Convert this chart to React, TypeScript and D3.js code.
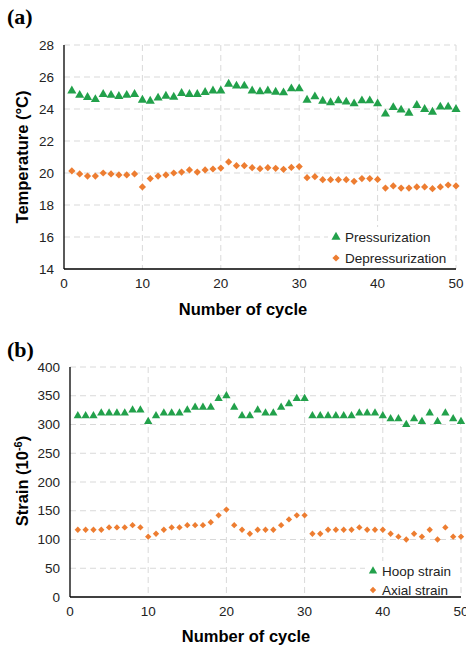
import React from 'react';
import * as d3 from 'd3';

const cycles = d3.range(1, 51);

const pressurization = [
  25.14, 24.86, 24.73, 24.6, 24.92, 24.86, 24.79, 24.86, 24.92, 24.56,
  24.5, 24.69, 24.81, 24.75, 24.98, 24.92, 24.92, 25.04, 25.14, 25.14,
  25.56, 25.44, 25.44, 25.14, 25.08, 25.14, 25.06, 25.02, 25.27, 25.27,
  24.56, 24.77, 24.5, 24.4, 24.52, 24.44, 24.33, 24.52, 24.52, 24.33,
  23.69, 24.1, 23.94, 23.75, 24.23, 23.98, 23.81, 24.13, 24.13, 23.98,
];
const depressurization = [
  20.13, 19.94, 19.81, 19.81, 20.0, 19.94, 19.88, 19.88, 19.94, 19.13,
  19.65, 19.81, 19.88, 20.0, 20.06, 20.19, 20.06, 20.19, 20.25, 20.31,
  20.69, 20.46, 20.46, 20.33, 20.27, 20.33, 20.29, 20.23, 20.35, 20.4,
  19.71, 19.77, 19.58, 19.58, 19.58, 19.58, 19.48, 19.65, 19.65, 19.6,
  19.06, 19.19, 19.06, 19.06, 19.13, 19.13, 19.02, 19.13, 19.25, 19.19,
];
const hoopStrain = [
  315, 315, 315, 320, 320, 320, 320, 325, 325, 305,
  315, 320, 320, 320, 325, 330, 330, 330, 345, 350,
  330, 315, 315, 325, 320, 320, 330, 336, 345, 345,
  315, 315, 315, 315, 315, 315, 320, 320, 320, 315,
  310, 310, 300, 310, 305, 320, 305, 320, 310, 305,
];
const axialStrain = [
  117, 117, 117, 117, 121, 121, 121, 125, 121, 105,
  110, 117, 121, 121, 125, 125, 125, 130, 142, 152,
  125, 117, 110, 117, 117, 117, 125, 135, 142, 142,
  110, 110, 117, 117, 117, 117, 121, 117, 117, 117,
  110, 105, 100, 110, 105, 117, 100, 121, 105, 105,
];

const xTicks = [0, 10, 20, 30, 40, 50];
const tempTicks = [14, 16, 18, 20, 22, 24, 26, 28];
const strainTicks = [0, 50, 100, 150, 200, 250, 300, 350, 400];

const GREEN = '#22a14b';
const ORANGE = '#ed7d31';
const GRID = '#d9d9d9';
const SANS = '"Liberation Sans", Arial, sans-serif';
const SERIF = '"Liberation Serif", "Times New Roman", serif';

// excel-ish markers: triangle, and a square turned 45 degrees
const triangle = d3.symbol().type(d3.symbolTriangle).size(36)();
const triangleSm = d3.symbol().type(d3.symbolTriangle).size(30)();
const diamond = d3.symbol().type(d3.symbolSquare).size(26)();
const diamondSm = d3.symbol().type(d3.symbolSquare).size(20)();

type Series = { values: number[]; color: string; path: string | null; name: string; rotate: number };

type PanelProps = {
  x0: number; x1: number; yTop: number; yBottom: number;
  yDomain: [number, number]; yTicks: number[];
  series: Series[];
  legend: { x: number; y: number; w: number; h: number; dy: number };
  tickSize: number;
};

function Panel({ x0, x1, yTop, yBottom, yDomain, yTicks, series, legend, tickSize }: PanelProps) {
  const x = d3.scaleLinear().domain([0, 50]).range([x0, x1]);
  const y = d3.scaleLinear().domain(yDomain).range([yBottom, yTop]);
  return (
    <g>
      {yTicks.slice(1).map(t => (
        <line key={'h' + t} x1={x0} x2={x1} y1={y(t)} y2={y(t)} stroke={GRID} strokeDasharray="6,4" />
      ))}
      {xTicks.slice(1).map(t => (
        <line key={'v' + t} x1={x(t)} x2={x(t)} y1={yTop} y2={yBottom} stroke={GRID} strokeDasharray="6,4" />
      ))}
      <line x1={x0} x2={x0} y1={yTop} y2={yBottom} stroke="#000" strokeWidth={1.3} />
      <line x1={x0} x2={x1} y1={yBottom} y2={yBottom} stroke="#000" strokeWidth={1.3} />
      {yTicks.map(t => (
        <text key={'yt' + t} x={x0 - 10} y={y(t)} dy="0.35em" textAnchor="end"
          fontFamily={SANS} fontSize={tickSize} fill="#222">{t}</text>
      ))}
      {xTicks.map(t => (
        <text key={'xt' + t} x={x(t)} y={yBottom + 19} textAnchor="middle"
          fontFamily={SANS} fontSize={tickSize} fill="#222">{t}</text>
      ))}
      <rect x={legend.x} y={legend.y} width={legend.w} height={legend.h} fill="#fff" />
      {series.map((s, si) => (
        <g key={s.name}>
          {s.values.map((v, i) => (
            <path key={i} d={s.path || ''} fill={s.color}
              transform={`translate(${x(cycles[i])},${y(v)}) rotate(${s.rotate})`} />
          ))}
          <path d={s.path || ''} fill={s.color}
            transform={`translate(${legend.x + 8},${legend.y + 10 + si * legend.dy}) rotate(${s.rotate})`} />
          <text x={legend.x + 17} y={legend.y + 10 + si * legend.dy} dy="0.35em"
            fontFamily={SANS} fontSize={13.5} fill="#222">{s.name}</text>
        </g>
      ))}
    </g>
  );
}

export default function App() {
  return (
    <svg width={466} height={648} style={{ position: 'absolute', left: 0, top: 0, background: '#fff' }}>
      <text x={7} y={24} fontFamily={SERIF} fontWeight="bold" fontSize={22}>(a)</text>
      <Panel
        x0={64} x1={456} yTop={45} yBottom={269}
        yDomain={[14, 28]} yTicks={tempTicks} tickSize={13.5}
        series={[
          { values: pressurization, color: GREEN, path: triangle, name: 'Pressurization', rotate: 0 },
          { values: depressurization, color: ORANGE, path: diamond, name: 'Depressurization', rotate: 45 },
        ]}
        legend={{ x: 328, y: 227, w: 127, h: 41, dy: 21 }}
      />
      <text x={243} y={315} textAnchor="middle" fontFamily={SANS} fontWeight="bold" fontSize={16.5}>Number of cycle</text>
      <text transform="translate(28,157) rotate(-90)" textAnchor="middle" fontFamily={SANS} fontWeight="bold" fontSize={16.5}>Temperature (°C)</text>

      <text x={7} y={357} fontFamily={SERIF} fontWeight="bold" fontSize={22}>(b)</text>
      <Panel
        x0={70} x1={461} yTop={367} yBottom={597}
        yDomain={[0, 400]} yTicks={strainTicks} tickSize={13.5}
        series={[
          { values: hoopStrain, color: GREEN, path: triangleSm, name: 'Hoop strain', rotate: 0 },
          { values: axialStrain, color: ORANGE, path: diamondSm, name: 'Axial strain', rotate: 45 },
        ]}
        legend={{ x: 365, y: 561, w: 95, h: 35, dy: 19 }}
      />
      <text x={246} y={642} textAnchor="middle" fontFamily={SANS} fontWeight="bold" fontSize={16.5}>Number of cycle</text>
      <text transform="translate(28,481) rotate(-90)" textAnchor="middle" fontFamily={SANS} fontWeight="bold" fontSize={16.5}>
        Strain (10<tspan dy={-6} fontSize={11}>-6</tspan><tspan dy={6}>)</tspan>
      </text>
    </svg>
  );
}
